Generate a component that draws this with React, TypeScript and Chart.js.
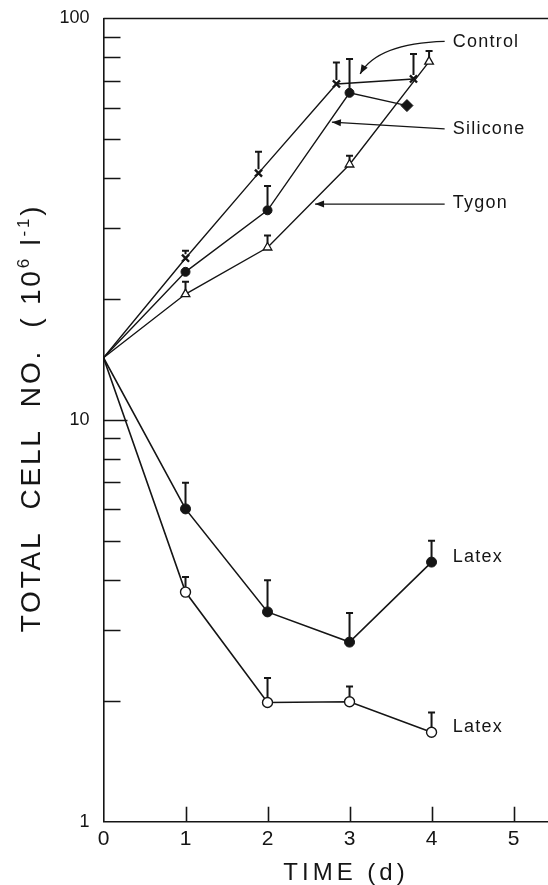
import React, { useEffect, useRef } from 'react';
import { Chart, registerables } from 'chart.js';

Chart.register(...registerables);

if (typeof document !== 'undefined') {
  document.body.style.margin = '0';
}

// ---- data ----
const xTickValues = [0, 1, 2, 3, 4, 5];
const yTickValues = [1, 10, 100];
const yMinorTicks = [2, 3, 4, 5, 6, 7, 8, 9, 20, 30, 40, 50, 60, 70, 80, 90];
const yMajorInnerTicks = [10];
const xInnerTicks = [1, 2, 3, 4, 5];

const controlX = [0, 1, 1.89, 2.84, 3.78];
const controlY = [14.3, 25.3, 41.2, 68.7, 70.7];
const controlErr = [null, 26.4, 46.6, 77.7, 81.6];

const siliconeX = [0, 1, 2, 3, 3.7];
const siliconeY = [14.3, 23.4, 33.3, 65.3, 60.7];
const siliconeErr = [null, null, 38.3, 79.3, null];

const tygonX = [0, 1, 2, 3, 3.97];
const tygonY = [14.3, 20.6, 26.9, 43.3, 78.1];
const tygonErr = [null, 22.1, 28.8, 45.5, 83];

const latexX = [0, 1, 2, 3, 4];
const latexFilledY = [14.3, 6.01, 3.33, 2.8, 4.43];
const latexFilledErr = [null, 6.98, 3.99, 3.31, 5.01];
const latexOpenY = [14.3, 3.73, 1.98, 1.99, 1.67];
const latexOpenErr = [null, 4.07, 2.28, 2.17, 1.87];

// annotation labels (data units)
const labelTexts = ['Control', 'Silicone', 'Tygon', 'Latex', 'Latex'];
const labelX = [4.26, 4.26, 4.26, 4.26, 4.26];
const labelY = [87.5, 53.1, 34.7, 4.55, 1.72];

// arrows (data units): straight ones [fromX, fromY, toX, toY]
const siliconeArrow = [4.16, 53.1, 2.785, 55.2];
const tygonArrow = [4.16, 34.5, 2.58, 34.5];
// curved control arrow: start, control point, tip
const controlArrow = [4.16, 87.7, 3.34, 86.7, 3.13, 72.8];

const INK = '#151515';
const FONT = '"Liberation Sans", Arial, sans-serif';

const pts = (xs: number[], ys: number[]) => xs.map((x, i) => ({ x, y: ys[i] }));

export default function App() {
  const ref = useRef<HTMLCanvasElement | null>(null);

  useEffect(() => {
    document.body.style.margin = '0';
    const canvas = ref.current;
    if (!canvas) return;

    const errSeries = [
      { xs: controlX, ys: controlY, err: controlErr, r: 4 },
      { xs: siliconeX, ys: siliconeY, err: siliconeErr, r: 4.5 },
      { xs: tygonX, ys: tygonY, err: tygonErr, r: 4 },
      { xs: latexX, ys: latexFilledY, err: latexFilledErr, r: 5 },
      { xs: latexX, ys: latexOpenY, err: latexOpenErr, r: 5 },
    ];

    const arrowHead = (ctx: CanvasRenderingContext2D, fx: number, fy: number, tx: number, ty: number) => {
      const a = Math.atan2(ty - fy, tx - fx);
      const L = 9, W = 3.5;
      ctx.beginPath();
      ctx.moveTo(tx, ty);
      ctx.lineTo(tx - L * Math.cos(a) + W * Math.sin(a), ty - L * Math.sin(a) - W * Math.cos(a));
      ctx.lineTo(tx - L * Math.cos(a) - W * Math.sin(a), ty - L * Math.sin(a) + W * Math.cos(a));
      ctx.closePath();
      ctx.fill();
    };

    const decor = {
      id: 'decor',
      afterDatasetsDraw(chart: any) {
        const ctx: CanvasRenderingContext2D = chart.ctx;
        const xs = chart.scales.x;
        const ys = chart.scales.y;
        const area = chart.chartArea;
        const X = (v: number) => xs.getPixelForValue(v);
        const Y = (v: number) => ys.getPixelForValue(v);
        ctx.save();
        ctx.strokeStyle = INK;
        ctx.fillStyle = INK;

        // top border
        ctx.lineWidth = 1.3;
        ctx.beginPath();
        ctx.moveTo(area.left, area.top);
        ctx.lineTo(area.right, area.top);
        ctx.stroke();

        // inner ticks
        ctx.lineWidth = 1.6;
        ctx.beginPath();
        yMinorTicks.forEach((v) => {
          const y = Math.round(Y(v)) + 0.5;
          ctx.moveTo(area.left, y);
          ctx.lineTo(area.left + 17, y);
        });
        yMajorInnerTicks.forEach((v) => {
          const y = Math.round(Y(v)) + 0.5;
          ctx.moveTo(area.left, y);
          ctx.lineTo(area.left + 24, y);
        });
        xInnerTicks.forEach((v) => {
          const x = Math.round(X(v)) + 0.5;
          ctx.moveTo(x, area.bottom);
          ctx.lineTo(x, area.bottom - 15);
        });
        ctx.stroke();

        // error bars
        ctx.lineWidth = 2;
        errSeries.forEach((s) => {
          s.err.forEach((e, i) => {
            if (e == null) return;
            const x = X(s.xs[i]);
            const y0 = Y(s.ys[i]) - s.r;
            const y1 = Y(e);
            ctx.beginPath();
            ctx.moveTo(x, y0);
            ctx.lineTo(x, y1);
            ctx.moveTo(x - 3.5, y1);
            ctx.lineTo(x + 3.5, y1);
            ctx.stroke();
          });
        });

        // arrows
        ctx.lineWidth = 1.4;
        [siliconeArrow, tygonArrow].forEach((a) => {
          const fx = X(a[0]), fy = Y(a[1]), tx = X(a[2]), ty = Y(a[3]);
          ctx.beginPath();
          ctx.moveTo(fx, fy);
          ctx.lineTo(tx, ty);
          ctx.stroke();
          arrowHead(ctx, fx, fy, tx, ty);
        });
        {
          const a = controlArrow;
          const sx = X(a[0]), sy = Y(a[1]), cx = X(a[2]), cy = Y(a[3]), tx = X(a[4]), ty = Y(a[5]);
          ctx.beginPath();
          ctx.moveTo(sx, sy);
          ctx.quadraticCurveTo(cx, cy, tx, ty);
          ctx.stroke();
          arrowHead(ctx, cx, cy, tx, ty);
        }

        // labels
        ctx.font = `18px ${FONT}`;
        (ctx as any).letterSpacing = '1.2px';
        ctx.textAlign = 'left';
        ctx.textBaseline = 'middle';
        labelTexts.forEach((t, i) => {
          ctx.fillText(t, X(labelX[i]), Y(labelY[i]));
        });

        // x title
        (ctx as any).letterSpacing = '4px';
        ctx.font = `24px ${FONT}`;
        ctx.textAlign = 'center';
        ctx.textBaseline = 'alphabetic';
        ctx.fillText('TIME (d)', 346, 880);

        // y title (rotated)
        ctx.save();
        ctx.translate(40, 418);
        ctx.rotate(-Math.PI / 2);
        (ctx as any).letterSpacing = '2.8px';
        const parts: [string, boolean][] = [
          ['TOTAL  CELL  NO.  ( 10', false],
          ['6', true],
          [' l', false],
          ['-1', true],
          [')', false],
        ];
        const big = `28px ${FONT}`;
        const small = `17px ${FONT}`;
        let total = 0;
        parts.forEach(([t, sup]) => {
          ctx.font = sup ? small : big;
          total += ctx.measureText(t).width;
        });
        let cx = -total / 2;
        ctx.textAlign = 'left';
        ctx.textBaseline = 'alphabetic';
        parts.forEach(([t, sup]) => {
          ctx.font = sup ? small : big;
          ctx.fillText(t, cx, sup ? -11 : 0);
          cx += ctx.measureText(t).width;
        });
        ctx.restore();

        (ctx as any).letterSpacing = '0px';
        ctx.restore();
      },
    };

    const lineBase = {
      showLine: true,
      borderColor: INK,
      borderWidth: 1.4,
      pointBorderColor: INK,
      tension: 0,
    };

    const chart = new Chart(canvas, {
      type: 'scatter',
      data: {
        datasets: [
          {
            ...lineBase,
            label: 'Control',
            data: pts(controlX, controlY),
            pointStyle: 'crossRot',
            pointRadius: [0, 5, 5, 5, 5],
            pointBorderWidth: 2.4,
            pointBackgroundColor: INK,
          },
          {
            ...lineBase,
            label: 'Silicone',
            data: pts(siliconeX, siliconeY),
            pointStyle: ['circle', 'circle', 'circle', 'circle', 'rectRot'],
            pointRadius: [0, 4.5, 4.5, 4.5, 6],
            pointBorderWidth: 1,
            pointBackgroundColor: INK,
          },
          {
            ...lineBase,
            label: 'Tygon',
            data: pts(tygonX, tygonY),
            pointStyle: 'triangle',
            pointRadius: [0, 5, 5, 5, 5],
            pointBorderWidth: 1.3,
            pointBackgroundColor: '#ffffff',
          },
          {
            ...lineBase,
            label: 'Latex (filled)',
            data: pts(latexX, latexFilledY),
            borderWidth: 1.6,
            pointStyle: 'circle',
            pointRadius: [0, 5, 5, 5, 5],
            pointBorderWidth: 1,
            pointBackgroundColor: INK,
          },
          {
            ...lineBase,
            label: 'Latex (open)',
            data: pts(latexX, latexOpenY),
            borderWidth: 1.6,
            pointStyle: 'circle',
            pointRadius: [0, 5, 5, 5, 5],
            pointBorderWidth: 1.4,
            pointBackgroundColor: '#ffffff',
          },
        ],
      },
      options: {
        responsive: true,
        maintainAspectRatio: false,
        animation: false,
        layout: { autoPadding: false, padding: { top: 18.5, left: 0, right: 0, bottom: 0 } },
        plugins: {
          legend: { display: false },
          tooltip: { enabled: false },
        },
        scales: {
          x: {
            type: 'linear',
            min: 0,
            max: 5.42,
            afterBuildTicks: (s: any) => {
              s.ticks = xTickValues.map((v) => ({ value: v }));
            },
            afterFit: (s: any) => {
              s.height = 63.3;
              s.paddingLeft = 0;
              s.paddingRight = 0;
            },
            grid: { display: false },
            border: { display: true, color: INK, width: 1.6 },
            ticks: {
              color: INK,
              font: { family: FONT, size: 21 },
              padding: -3,
              maxRotation: 0,
              callback: (v: any) => String(v),
            },
          },
          y: {
            type: 'logarithmic',
            min: 1,
            max: 100,
            afterBuildTicks: (s: any) => {
              s.ticks = yTickValues.map((v) => ({ value: v }));
            },
            afterFit: (s: any) => {
              s.width = 103.5;
            },
            grid: { display: false },
            border: { display: true, color: INK, width: 1.6 },
            ticks: {
              color: INK,
              font: { family: FONT, size: 18 },
              padding: 6,
              callback: (v: any) => String(v),
            },
          },
        },
      },
      plugins: [decor],
    } as any);

    return () => chart.destroy();
  }, []);

  return (
    <div style={{ position: 'relative', width: 548, height: 885 }}>
      <canvas ref={ref} />
    </div>
  );
}
